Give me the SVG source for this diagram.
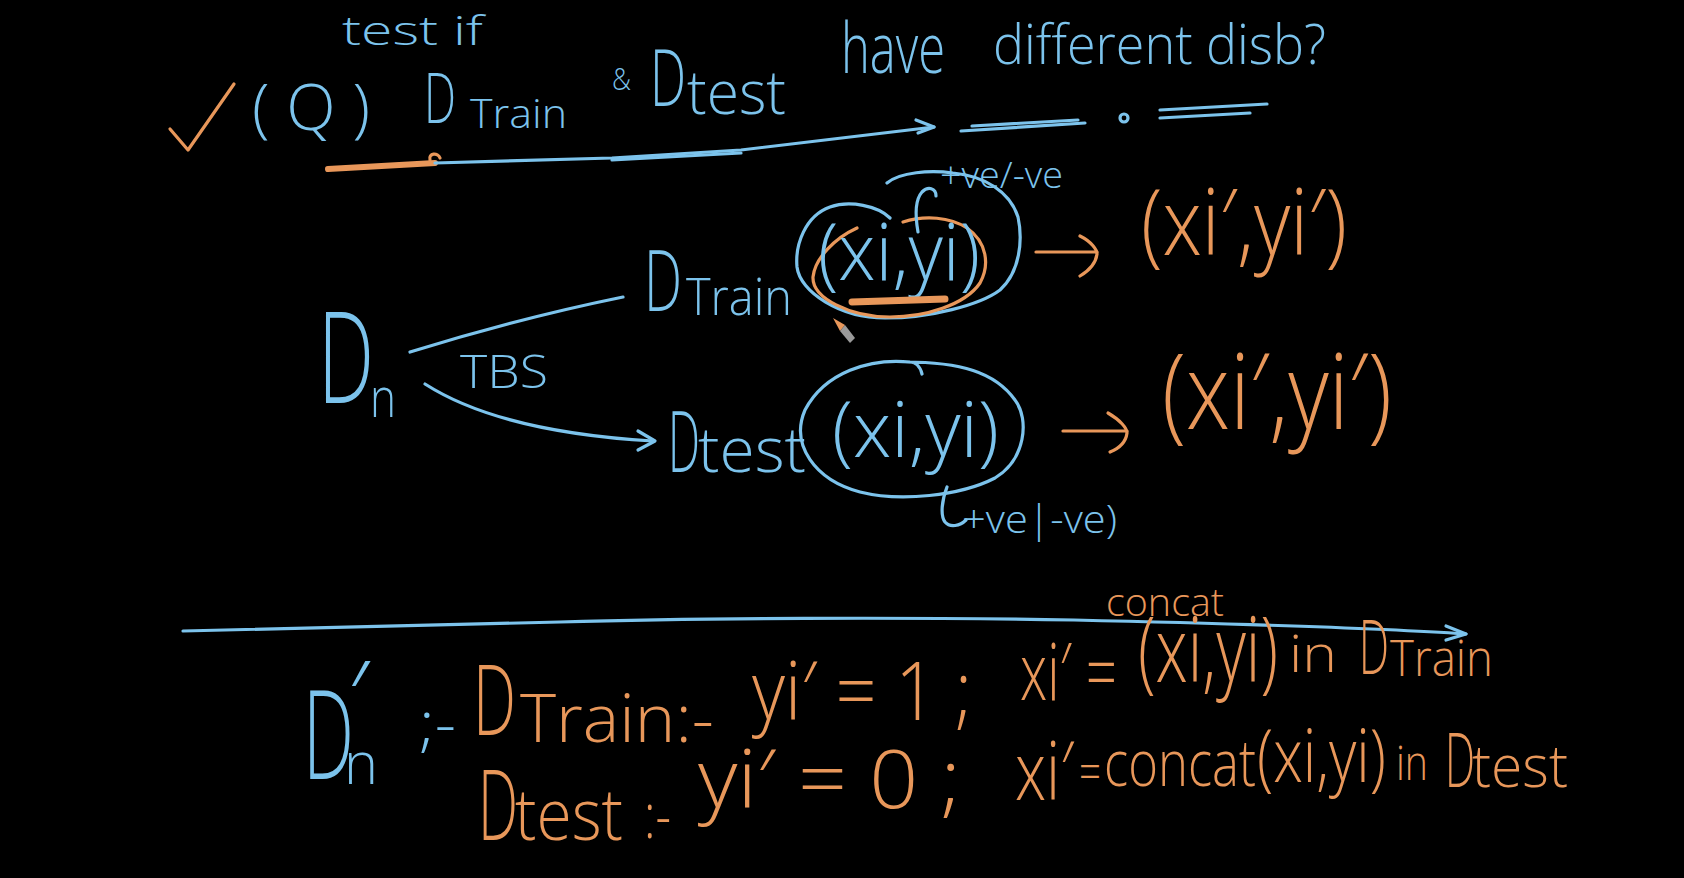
<svg xmlns="http://www.w3.org/2000/svg" width="1684" height="878" viewBox="0 0 1684 878">
<style>
.b{fill:none;stroke:#7cc3ec;stroke-width:3.2;stroke-linecap:round;stroke-linejoin:round}
.o{fill:none;stroke:#e8975a;stroke-width:3.2;stroke-linecap:round;stroke-linejoin:round}
.t{font-family:"Open Sans","Liberation Sans",sans-serif;font-weight:300}
.tb{fill:#7cc3ec}
.to{fill:#e8975a}
</style>
<rect width="1684" height="878" fill="#000"/>

<g id="question">
  <path class="o" d="M170,129 L188,150 L234,84"/>
  <text class="t tb" x="342" y="45" font-size="40" textLength="141" lengthAdjust="spacingAndGlyphs">test if</text>
  <text class="t tb" x="252" y="130" font-size="64" textLength="118" lengthAdjust="spacingAndGlyphs">( Q )</text>
  <text class="t tb" x="424" y="123" font-size="70" textLength="32" lengthAdjust="spacingAndGlyphs">D</text>
  <text class="t tb" x="470" y="128" font-size="40" textLength="97" lengthAdjust="spacingAndGlyphs">Train</text>
  <text class="t tb" x="612" y="90" font-size="32" textLength="19" lengthAdjust="spacingAndGlyphs">&amp;</text>
  <text class="t tb" x="650" y="106" font-size="80" textLength="36" lengthAdjust="spacingAndGlyphs">D</text>
  <text class="t tb" x="687" y="114" font-size="60" textLength="99" lengthAdjust="spacingAndGlyphs">test</text>
  <text class="t tb" x="841" y="73" font-size="70" textLength="104" lengthAdjust="spacingAndGlyphs">have</text>
  <text class="t tb" x="993" y="64" font-size="56" textLength="333" lengthAdjust="spacingAndGlyphs">different disb?</text>
</g>

<g id="underline">
  <path d="M328,169 L435,163" fill="none" stroke="#e8975a" stroke-width="6" stroke-linecap="round"/>
  <path class="o" d="M430,160 C428,153 438,152 440,158"/>
  <path class="b" d="M435,163 L612,158 L741,150 L934,127"/>
  <path class="b" d="M612,160 L741,153"/>
  <path class="b" d="M916,120 L934,127 L918,133"/>
  <path class="b" d="M961,131 L1085,123"/>
  <path class="b" d="M972,126 L1078,120"/>
  <circle class="b" cx="1124" cy="118" r="4" stroke-width="2.5"/>
  <path class="b" d="M1160,118 L1250,113"/>
  <path class="b" d="M1160,110 L1267,104"/>
</g>

<g id="Dn">
  <text class="t tb" x="318" y="403" font-size="128" textLength="56" lengthAdjust="spacingAndGlyphs">D</text>
  <text class="t tb" x="370" y="417" font-size="56" textLength="26" lengthAdjust="spacingAndGlyphs">n</text>
</g>

<g id="tbs">
  <text class="t tb" x="460" y="388" font-size="46" textLength="88" lengthAdjust="spacingAndGlyphs">TBS</text>
</g>

<g id="DTrain">
  <text class="t tb" x="644" y="311" font-size="84" textLength="38" lengthAdjust="spacingAndGlyphs">D</text>
  <text class="t tb" x="686" y="315" font-size="52" textLength="106" lengthAdjust="spacingAndGlyphs">Train</text>
</g>

<g id="DTest">
  <text class="t tb" x="668" y="472" font-size="84" textLength="32" lengthAdjust="spacingAndGlyphs">D</text>
  <text class="t tb" x="698" y="472" font-size="62" textLength="108" lengthAdjust="spacingAndGlyphs">test</text>
</g>

<g id="train-sample">
  <path class="b" d="M890,218 C878,206 850,200 830,207 C805,216 795,245 797,267 C800,292 840,318 885,318 C930,318 980,305 1000,290 C1020,272 1023,240 1018,217 C1010,192 985,176 953,173 C930,170 900,172 887,183"/>
  <path class="o" d="M857,228 C835,238 815,258 813,277 C812,298 850,317 890,317 C925,317 965,305 980,283 C990,265 987,242 967,228 C950,217 925,215 903,222"/>
  <text class="t tb" x="818" y="280" font-size="80" textLength="162" lengthAdjust="spacingAndGlyphs">(xi,yi)</text>
  <path d="M852,302 L945,299" fill="none" stroke="#e8975a" stroke-width="7" stroke-linecap="round"/>
  <path class="b" d="M918,232 C915,215 915,200 922,192 C928,186 936,188 936,196"/>
  <text class="t tb" x="940" y="188" font-size="36" textLength="123" lengthAdjust="spacingAndGlyphs">+ve/-ve</text>
</g>

<g id="test-sample">
  <path class="b" d="M922,374 C920,366 915,362 910,362 C870,358 825,372 805,410 C790,445 815,480 860,492 C900,502 960,496 995,478 C1025,460 1030,420 1015,400 C995,372 960,362 905,362"/>
  <text class="t tb" x="832" y="457" font-size="78" textLength="167" lengthAdjust="spacingAndGlyphs">(xi,yi)</text>
  <path class="b" d="M947,487 C942,500 940,515 945,522 C950,528 960,526 966,520"/>
  <text class="t tb" x="962" y="533" font-size="38" textLength="155" lengthAdjust="spacingAndGlyphs">+ve|-ve)</text>
</g>

<g id="train-out">
  <text class="t to" x="1141" y="255" font-size="92" textLength="206" lengthAdjust="spacingAndGlyphs">(xi′,yi′)</text>
</g>
<g id="test-out">
  <text class="t to" x="1162" y="429" font-size="106" textLength="230" lengthAdjust="spacingAndGlyphs">(xi′,yi′)</text>
</g>

<g id="connectors">
  <path class="b" d="M410,352 Q520,318 623,297"/>
  <path class="b" d="M425,384 Q500,432 653,441"/>
  <path class="b" d="M638,431 L655,441 L638,450"/>
  <path class="o" d="M1036,252 L1097,252"/>
  <path class="o" d="M1080,236 C1092,242 1097,250 1097,254 C1096,262 1090,270 1080,276"/>
  <path class="o" d="M1063,431 L1127,431"/>
  <path class="o" d="M1108,413 C1120,420 1127,428 1127,433 C1126,441 1120,448 1110,452"/>
</g>

<g id="pencil">
  <polygon points="833,318 845,325 840,331" fill="#e8975a"/>
  <polygon points="845,325 855,338 850,343 840,331" fill="#9a9a9a"/>
</g>

<g id="separator">
  <path class="b" d="M183,631 C300,628 430,626 560,622 C700,618 900,617 1074,620 C1250,624 1380,628 1466,634"/>
  <path class="b" d="M1446,626 L1466,634 L1446,640"/>
</g>

<g id="new-dataset">
  <text class="t tb" x="303" y="779" font-size="124" textLength="51" lengthAdjust="spacingAndGlyphs">D</text>
  <text class="t tb" x="348" y="732" font-size="100">′</text>
  <text class="t tb" x="344" y="784" font-size="58" textLength="34" lengthAdjust="spacingAndGlyphs">n</text>
  <text class="t tb" x="419" y="745" font-size="60" textLength="37" lengthAdjust="spacingAndGlyphs">;-</text>

  <text class="t to" x="473" y="735" font-size="98" textLength="43" lengthAdjust="spacingAndGlyphs">D</text>
  <text class="t to" x="520" y="742" font-size="66" textLength="194" lengthAdjust="spacingAndGlyphs">Train:-</text>
  <text class="t to" x="752" y="720" font-size="82" textLength="220" lengthAdjust="spacingAndGlyphs">yi′ = 1 ;</text>
  <text class="t to" x="1020" y="700" font-size="80" textLength="97" lengthAdjust="spacingAndGlyphs">xi′ =</text>
  <text class="t to" x="1106" y="616" font-size="38" textLength="118" lengthAdjust="spacingAndGlyphs">concat</text>
  <text class="t to" x="1138" y="682" font-size="90" textLength="140" lengthAdjust="spacingAndGlyphs">(xi,yi)</text>
  <text class="t to" x="1289" y="672" font-size="52" textLength="48" lengthAdjust="spacingAndGlyphs">in</text>
  <text class="t to" x="1359" y="674" font-size="76" textLength="30" lengthAdjust="spacingAndGlyphs">D</text>
  <text class="t to" x="1390" y="676" font-size="50" textLength="103" lengthAdjust="spacingAndGlyphs">Train</text>

  <text class="t to" x="478" y="840" font-size="98" textLength="40" lengthAdjust="spacingAndGlyphs">D</text>
  <text class="t to" x="515" y="840" font-size="72" textLength="108" lengthAdjust="spacingAndGlyphs">test</text>
  <text class="t to" x="644" y="838" font-size="62" textLength="27" lengthAdjust="spacingAndGlyphs">:-</text>
  <text class="t to" x="698" y="808" font-size="82" textLength="263" lengthAdjust="spacingAndGlyphs">yi′ = 0 ;</text>
  <text class="t to" x="1015" y="800" font-size="82" textLength="59" lengthAdjust="spacingAndGlyphs">xi′</text>
  <text class="t to" x="1079" y="790" font-size="52" textLength="22" lengthAdjust="spacingAndGlyphs">=</text>
  <text class="t to" x="1104" y="786" font-size="64" textLength="152" lengthAdjust="spacingAndGlyphs">concat</text>
  <text class="t to" x="1257" y="782" font-size="74" textLength="129" lengthAdjust="spacingAndGlyphs">(xi,yi)</text>
  <text class="t to" x="1396" y="780" font-size="48" textLength="32" lengthAdjust="spacingAndGlyphs">in</text>
  <text class="t to" x="1445" y="787" font-size="76" textLength="30" lengthAdjust="spacingAndGlyphs">D</text>
  <text class="t to" x="1472" y="787" font-size="58" textLength="96" lengthAdjust="spacingAndGlyphs">test</text>
</g>
</svg>
